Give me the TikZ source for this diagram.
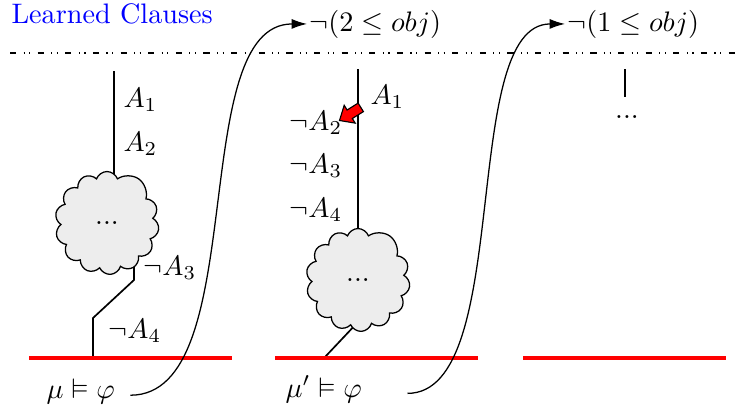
\documentclass[tikz,border=0pt]{standalone}
\usepackage{amsmath,amssymb}
\usetikzlibrary{shapes.symbols,arrows.meta}
\pgfdeclarelayer{bg}
\pgfsetlayers{bg,main}
\definecolor{cloudgray}{HTML}{EDEDED}
\tikzset{
  lbl/.style={inner sep=0pt, anchor=base west},
  treeline/.style={line width=0.6pt},
  redline/.style={draw=red, line width=1.3pt},
  flow/.style={line width=0.45pt, -{Latex[length=5.5pt,width=3.6pt]}},
  sepline/.style={line width=0.45pt, dash pattern=on 2.2pt off 2.6pt on 0.4pt off 1.6pt on 0.4pt off 2.6pt},
  cloudbox/.style={cloud, cloud puffs=13.7, cloud puff arc=140, cloud ignores aspect, draw=black, line width=0.45pt,
    fill=cloudgray, inner sep=0pt, minimum width=36.9pt, minimum height=36.5pt},
}
\begin{document}
\begin{tikzpicture}[x=0.3546pt,y=-0.3546pt]
\useasboundingbox (0,0) rectangle (736,412);

% header
\node[lbl, text=blue] (learned) at (11,23) {Learned Clauses};
\coordinate (sepA) at (10,53);
\coordinate (sepB) at (736,53);
\draw[sepline] (sepA) -- (sepB);
\node[lbl] (neg2) at (309,31) {$\neg(2\leq obj)$};
\node[lbl] (neg1) at (567,31) {$\neg(1\leq obj)$};

% red lines
\coordinate (r1a) at (29,358); \coordinate (r1b) at (232,358);
\coordinate (r2a) at (275,358); \coordinate (r2b) at (478,358);
\coordinate (r3a) at (523,358); \coordinate (r3b) at (726,358);
\draw[redline] (r1a) -- (r1b);
\draw[redline] (r2a) -- (r2b);
\draw[redline] (r3a) -- (r3b);

% column 1
\coordinate (c1top) at (114,71);
\node[cloudbox] (cl1) at (107,223) {...};
\coordinate (c1in) at (134,245);
\coordinate (c1k1) at (134,280);
\coordinate (c1k2) at (93,318);
\coordinate (c1foot) at (93,357);
\begin{pgfonlayer}{bg}
\draw[treeline] (c1top) -- (c1top |- cl1.center);
\draw[treeline] (c1in) -- (c1k1) -- (c1k2) -- (c1foot);
\end{pgfonlayer}
\node[lbl] (c1a1) at (123,107) {$A_1$};
\node[lbl] (c1a2) at (123,151) {$A_2$};
\node[lbl] (c1a3) at (143,275) {$\neg A_3$};
\node[lbl] (c1a4) at (108,338) {$\neg A_4$};
\node[lbl] (mu1) at (46,398) {$\mu\vDash\varphi$};

% column 2
\coordinate (c2top) at (358,69);
\node[cloudbox] (cl2) at (358,280) {...};
\coordinate (c2in) at (358,322);
\coordinate (c2foot) at (325,357);
\begin{pgfonlayer}{bg}
\draw[treeline] (c2top) -- (c2top |- cl2.center);
\draw[treeline] (c2in) -- (c2foot);
\end{pgfonlayer}
\node[lbl] (c2a1) at (370,104) {$A_1$};
\node[lbl] (c2a2) at (289,130) {$\neg A_2$};
\node[lbl] (c2a3) at (289,173) {$\neg A_3$};
\node[lbl] (c2a4) at (289,217) {$\neg A_4$};
\node[lbl] (mu2) at (285,397) {$\mu'\vDash\varphi$};
% red pointer arrow
\draw[fill=red, draw=black, line width=0.4pt, line join=miter]
  (363.4,111.6) -- (352.3,118.5) -- (355.2,123.1) -- (339.5,120.5)
  -- (344.2,105.3) -- (347.1,110.0) -- (358.1,103.1) -- cycle;

% column 3
\coordinate (c3top) at (625,69);
\node[inner sep=0pt, anchor=base] (c3dots) at (627,118) {...};
\coordinate (c3bot) at (625,97);
\draw[treeline] (c3top) -- (c3bot);

% learned-clause arrows
\draw[flow] ([xshift=5.3pt,yshift=-1.5pt]mu1.east) .. controls +(122,0) and +(-122,0) .. ([xshift=-0.7pt]neg2.west);
\draw[flow] ([xshift=16pt,yshift=-1.5pt]mu2.east) .. controls +(107,0) and +(-107,0) .. ([xshift=-0.7pt]neg1.west);
\end{tikzpicture}
\end{document}
